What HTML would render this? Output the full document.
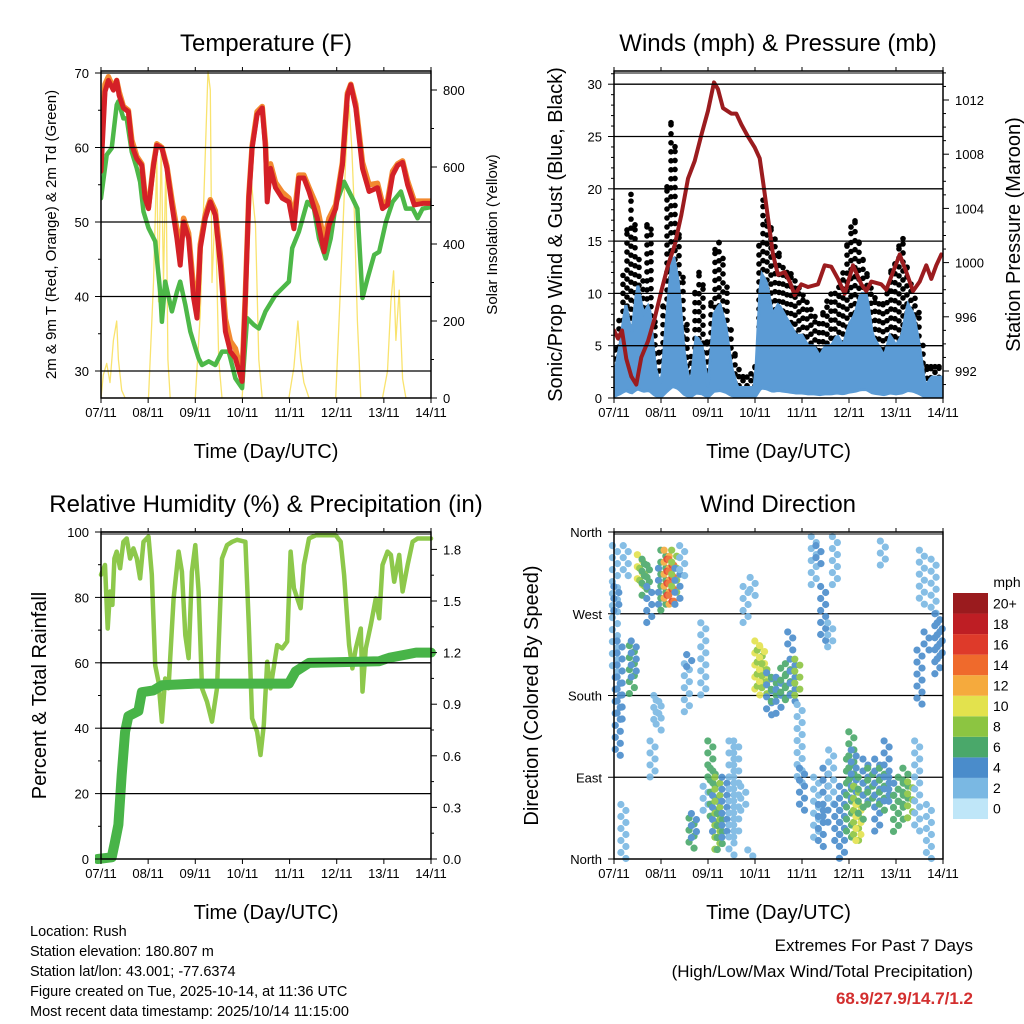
<!DOCTYPE html>
<html><head><meta charset="utf-8"><style>
html,body{margin:0;padding:0;background:#fff;}
svg{display:block;font-family:"Liberation Sans",Arial,sans-serif;}
</style></head><body>
<svg id="chart" width="1024" height="1024" viewBox="0 0 1024 1024">
</svg>
<script>
// ---------- DATA ----------
const dayLabels = ["07/11","08/11","09/11","10/11","11/11","12/11","13/11","14/11"];
const tempX = [18,30,40,55,65,72,85,100,110,125,140,150,160,175,185,200,215,230,245,255,265,280,295,305,315,330,345,360,375,390,405,420,440,450,460,470,485,500,510,515,525,540,560,580,595,610,625,640,665,685,700,720,740,755,765,780,800,820,845,860,875,890,905,920,935,955,980,1005];
const tempRed = [56.8,67.5,69,67.7,69,67,65.3,64.8,60.3,58.5,57.6,53.2,51.8,57.6,60.3,59.9,57.2,52.3,47.8,44.2,50,47.8,39.8,37.1,46.5,50.5,52.7,50.9,44.2,35.3,32.6,31.7,28.6,39.8,53.2,59.9,64.4,65.3,59.9,52.7,57.2,54.6,53.2,52.7,49.1,55.9,55.9,54.1,50.5,46,49.6,51.8,57.6,67,68.4,65.3,57.2,54.1,54.6,51.8,52.3,56.3,57.6,58,55,52.3,52.5,52.5];
const tempOrange = [59,68.5,69.5,68,69,67.5,65.5,65,61,58.8,57.8,53.5,52,57.8,60.5,60,57.5,53,49,46,50.5,48.5,41,38,47,51,53,51.5,45.5,37,34,33,29.5,40.5,53.5,60.2,64.8,65.5,60.5,54.5,57.8,55.3,54,53.2,50.5,56.3,56.3,54.6,52,47.5,50.5,52.3,58,67.3,68.5,65.8,58,55,55.2,52.5,52.8,56.8,57.8,58.2,55.5,52.8,52.8,52.8];
const dewX = [18,35,50,65,70,85,95,110,125,135,145,160,180,195,200,210,230,245,255,270,285,300,310,320,340,360,380,400,420,440,455,475,490,510,540,560,580,590,610,635,655,670,690,705,720,745,770,785,800,815,835,850,870,890,915,930,950,965,980,1005];
const dewPt = [53.2,59,59.9,65.7,66.2,63.9,63.9,59.4,57.2,55.4,51.4,49.2,47.4,40.6,36.6,42,38,40.6,42,38.9,35.3,33.1,31.7,30.8,31.3,30.8,32.6,32.6,29,27.7,37.1,36.2,35.7,38,40.2,41.1,42,46.5,48.7,52.7,51.8,47.8,45.1,47.8,52.3,55.4,53.2,51.8,39.8,42.4,45.6,46,50,52.7,54.1,51.8,51.8,50.5,51.8,52];
const solarX = [18,25,35,45,55,65,70,80,90,160,175,185,190,198,205,212,218,225,300,315,325,338,345,350,360,370,380,440,455,465,472,480,490,500,580,595,607,615,625,640,720,735,750,760,768,775,785,795,860,875,885,893,900,910,920,930];
const solarW = [0,60,90,40,150,200,100,20,0,0,300,620,250,660,300,620,100,0,0,220,500,850,800,300,500,100,0,0,200,600,520,450,100,0,0,80,200,100,40,0,0,300,620,760,650,500,200,0,0,70,250,330,150,280,50,0];
const windMax = [2,5,9,6,11,8,9,3,1,8,14,11,4,1,6,5,1,8,9,7,3,1,1,1,1,12,11,8,9,8,7,6,6,5,5,4,5,5,6,5,7,8,10,10,6,5,4,6,5,6,9,8,5,1,2,2,2];
const gustMax = [4,8,15,20,14,11,20,7,3,20,29,16,10,3,12,12,4,14,15,12,6,3,2,2,3,20,17,16,14,12,12,11,10,9,8,7,9,10,10,12,16,17,14,12,10,9,9,12,13,16,12,10,8,3,3,3,3];
const presX = [18,30,42,55,70,85,100,120,140,160,180,200,220,240,260,280,300,318,330,345,370,385,400,420,440,455,465,480,495,510,530,545,560,580,600,630,650,670,690,710,735,760,775,790,820,835,855,875,895,915,935,955,970,985,1000];
const presMb = [995,994.4,995,992.9,991.6,991,993,994.2,995.9,997.9,999.8,1001.3,1003.5,1006.2,1007.5,1009.4,1011.2,1013.3,1012.8,1011.4,1011,1011,1010.2,1009.3,1008.5,1007.7,1006,1003.3,1000.6,999.1,999.3,998.6,997.6,998.4,998.2,998.4,999.8,999.7,998.8,997.7,999.8,998.4,997.9,998.6,998.4,998,999.3,1000.6,999.3,997.9,998.6,999.8,998.8,999.8,1000.6];
const rhX = [18,30,38,45,52,58,65,75,85,95,105,115,125,135,145,160,170,180,190,200,210,220,235,250,260,270,280,290,300,310,320,335,350,365,380,395,410,425,450,460,470,485,495,505,515,525,545,560,575,585,595,615,625,640,660,700,720,735,745,760,770,780,795,800,810,825,840,850,860,875,885,895,910,920,935,950,965,985,1005];
const rhVal = [86.9,89.9,70.5,81.8,77.7,91.9,94,88.9,97,98,91.9,95,91.9,85.8,97,98.6,87,59.2,54.2,42,55.2,52.2,79.7,94,87.9,68.5,61.4,87.9,96,81.8,52.2,48.1,42,52.2,91.9,96,97,97.6,97,71.6,43,38.9,31.8,41,60.3,52.2,65.4,64.4,66.5,94,82.8,76.7,89.9,98,99,99,99,97,86.9,65.4,58.3,64.4,70.5,51.2,64.4,71.6,79.7,73.6,89.9,94,93,84.8,93,81.8,89.9,97,98,98,98];
const prX = [8,50,60,70,80,90,100,130,140,175,200,300,450,580,600,640,850,880,960,1005];
const prIn = [0,0.01,0.1,0.2,0.49,0.74,0.83,0.86,0.97,0.98,1.01,1.02,1.02,1.02,1.09,1.14,1.15,1.17,1.2,1.2];
const wdDay = [0.02,0.05,0.08,0.12,0.2,0.25,0.38,0.42,0.55,0.6,0.65,0.7,0.75,0.82,0.9,0.95,1.0,1.05,1.12,1.18,1.22,1.28,1.35,1.45,1.55,1.6,1.65,1.7,1.9,1.95,2.05,2.1,2.15,2.2,2.25,2.35,2.5,2.6,2.75,2.9,2.95,2.8,3.05,3.1,3.15,3.2,3.3,3.4,3.5,3.6,3.7,3.8,3.9,3.75,3.95,4.0,4.25,4.35,4.45,4.6,4.7,4.3,4.4,4.5,4.62,4.75,4.85,5.0,5.05,5.1,5.15,5.2,5.25,5.35,5.45,5.6,5.7,5.8,5.9,6.0,6.1,6.2,6.3,5.72,6.45,6.5,6.55,6.65,6.7,6.8,6.88,6.93];
const wdLo = [200,270,110,150,0,310,180,200,300,295,290,300,260,90,150,140,280,270,280,280,280,290,275,310,160,210,10,20,180,50,80,40,20,10,5,20,0,20,50,0,290,260,180,190,195,180,155,170,160,175,170,170,180,230,80,50,300,320,240,230,300,20,10,40,60,20,0,20,80,60,20,20,40,60,60,30,50,60,60,30,40,60,40,320,30,170,280,230,0,270,200,220];
const wdHi = [345,300,200,240,60,345,235,240,335,320,330,325,300,130,180,175,320,340,340,330,330,340,320,345,215,225,45,50,260,80,130,100,70,90,50,90,130,130,80,10,310,300,240,230,235,215,205,200,200,210,215,220,220,250,170,100,355,345,300,260,355,90,60,100,120,60,80,110,140,120,80,60,90,110,100,110,100,130,90,70,90,100,85,350,130,230,340,250,60,330,270,260];
const wdMph = [2,3,3,4,1,1,6,4,9,7,6,6,3,1,1,2,4,6,11,15,13,8,4,1,1,3,5,4,1,2,5,6,4,7,6,3,1,1,1,1,1,1,10,8,9,7,4,6,3,5,6,4,7,4,2,3,2,3,3,2,2,2,3,3,2,3,4,5,5,4,8,10,6,4,5,4,6,4,3,5,6,5,7,1,1,3,1,4,1,2,3,4];
const cbLabels = ["0","2","4","6","8","10","12","14","16","18","20+"];
const cbColors = ["#bfe6f8","#7ab8e3","#4a8ccb","#4aa86a","#8cc541","#e3e24d","#f5aa3d","#ef6a2c","#de3a2a","#be1e24","#9a1b1e"];

// ---------- HELPERS ----------
const NS="http://www.w3.org/2000/svg";
const svg=document.getElementById('chart');
function el(tag,attrs,parent){const e=document.createElementNS(NS,tag);for(const k in attrs)e.setAttribute(k,attrs[k]);(parent||svg).appendChild(e);return e;}
function txt(s,attrs,parent){const e=el('text',attrs,parent);e.textContent=s;return e;}
const zx2day = zx => (zx-18)/141;
function line(x1,y1,x2,y2,stroke,w,parent){return el('line',{x1,y1,x2,y2,stroke,'stroke-width':w},parent);}

function panel(name,x0,x1,y0,y1,title,titleX){
  const g=el('g',{});
  
  
  const t=txt(title,{x:titleX,y:y0-20,'font-size':24,'text-anchor':'middle',fill:'#000'},g);
  
  
  const xd=d=>x0+d*(x1-x0)/7;
  return {g,x0,x1,y0,y1,xd};
}
function frame(p){
  const g=p.g;
  el('rect',{x:p.x0,y:p.y0,width:p.x1-p.x0,height:p.y1-p.y0,fill:'none',stroke:'#000','stroke-width':1.5},g);
  line(p.x0,p.y0+2,p.x1,p.y0+2,'#000',1,g);
  for(let i=0;i<=7;i++){
    const x=p.xd(i);
    line(x,p.y0,x,p.y0-4,'#000',1,g);
    line(x,p.y1,x,p.y1+5,'#000',1,g);
    const l=txt(dayLabels[i],{x:x,y:p.y1+19,'font-size':13,'text-anchor':'middle'},g);
    
    
  }
  const xt=txt('Time (Day/UTC)',{x:(p.x0+p.x1)/2,y:p.y1+60,'font-size':20,'text-anchor':'middle'},g);
  
  
}
function leftTicks(p,vals,labels,yf,minor){
  minor.forEach(v=>line(p.x0,yf(v),p.x0-3,yf(v),'#000',1,p.g));
  vals.forEach((v,i)=>{line(p.x0,yf(v),p.x0-6,yf(v),'#000',1,p.g);
    const l=txt(labels[i],{x:p.x0-12,y:yf(v)+5,'font-size':13,'text-anchor':'end'},p.g);
    
    });
}
function rightTicks(p,vals,labels,yf,minor){
  minor.forEach(v=>line(p.x1,yf(v),p.x1+3,yf(v),'#000',1,p.g));
  vals.forEach((v,i)=>{line(p.x1,yf(v),p.x1+6,yf(v),'#000',1,p.g);
    const l=txt(labels[i],{x:p.x1+12,y:yf(v)+5,'font-size':13,'text-anchor':'start'},p.g);
    
    });
}
function grid(p,vals,yf){vals.forEach(v=>line(p.x0,yf(v),p.x1,yf(v),'#000',1.3,p.g));}
function vtitle(p,s,x,size,name){
  const cy=(p.y0+p.y1)/2;
  const t=txt(s,{x:x,y:cy,'font-size':size,'text-anchor':'middle',transform:`rotate(-90 ${x} ${cy})`},p.g);
  
  
}
function poly(p,xs,ys,color,w,name,opac){
  const pts=xs.map((x,i)=>x.toFixed(1)+','+ys[i].toFixed(1)).join(' ');
  const e=el('polyline',{points:pts,fill:'none',stroke:color,'stroke-width':w,'stroke-linejoin':'round','stroke-linecap':'round',opacity:opac||1},p.g);
  
  
  return e;
}
function interp(xs,ys,x){
  if(x<=xs[0])return ys[0];
  for(let i=1;i<xs.length;i++){if(x<=xs[i]){const t=(x-xs[i-1])/(xs[i]-xs[i-1]);return ys[i-1]+t*(ys[i]-ys[i-1]);}}
  return ys[ys.length-1];
}

// ---------- PANEL 1: TEMPERATURE ----------
(function(){
  const p=panel('temperature-panel',101,431,71,398,'Temperature (F)',266);
  const yT=t=>371-(t-30)*7.45, yS=s=>398-s*0.385;
  const clip=el('clipPath',{id:'c1'});el('rect',{x:p.x0,y:p.y0,width:p.x1-p.x0,height:p.y1-p.y0},clip);
  const inner=el('g',{'clip-path':'url(#c1)'},p.g);
  grid(p,[30,40,50,60,70],yT);
  const sub={g:inner};
  poly(sub,solarX.map(z=>p.xd(zx2day(z))),solarW.map(yS),'#f7dc4a',1.3,'solar-insolation-line',0.8);
  poly(sub,dewX.map(z=>p.xd(zx2day(z))),dewPt.map(yT),'#4db848',4.5,'dewpoint-line');
  poly(sub,tempX.map(z=>p.xd(zx2day(z))),tempOrange.map(yT),'#f28a30',5.5,'temp-9m-line');
  poly(sub,tempX.map(z=>p.xd(zx2day(z))),tempRed.map(yT),'#d42027',5,'temp-2m-line');
  frame(p);
  leftTicks(p,[30,40,50,60,70],['30','40','50','60','70'],yT,[35,45,55,65]);
  rightTicks(p,[0,200,400,600,800],['0','200','400','600','800'],yS,[100,300,500,700]);
  vtitle(p,'2m & 9m T (Red, Orange) & 2m Td (Green)',56,15,'y-axis-title');
  vtitle(p,'Solar Insolation (Yellow)',497,15,'y2-axis-title');
})();

// ---------- PANEL 2: WINDS ----------
(function(){
  const p=panel('winds-panel',614,943,71,398,'Winds (mph) & Pressure (mb)',778);
  const yW=w=>398-w*10.46, yP=m=>371-(m-992)*13.55;
  const clip=el('clipPath',{id:'c2'});el('rect',{x:p.x0,y:p.y0,width:p.x1-p.x0,height:p.y1-p.y0},clip);
  const inner=el('g',{'clip-path':'url(#c2)'},p.g);
  grid(p,[5,10,15,20,25,30],yW);
  const wx=windMax.map((v,i)=>i/8);
  const gd=el('g',{fill:'#000'},inner);
  
  
  let k=0;
  for(let x=p.x0+1;x<p.x1;x+=4){
    const d=(x-p.x0)/(p.x1-p.x0)*7;
    const g=interp(wx,gustMax,d), w=interp(wx,windMax,d);
    const top=yW(g), bot=yW(w*0.8);
    const off=(k++%2)*4;
    for(let y=bot-off;y>=top;y-=9){el('circle',{cx:x,cy:y,r:2.8},gd);}
    el('circle',{cx:x,cy:top,r:2.8},gd);
  }
  const bx=[],bt=[],bb=[];
  for(let x=p.x0;x<=p.x1;x+=2){const d=(x-p.x0)/(p.x1-p.x0)*7;const w=interp(wx,windMax,d);bx.push(x);bt.push(yW(w));bb.push(yW(w*0.08));}
  let dstr='M'+bx.map((x,i)=>x+','+bt[i]).join(' L')+' L'+bx.slice().reverse().map((x,i)=>x+','+bb[bb.length-1-i]).join(' L')+'Z';
  const band=el('path',{d:dstr,fill:'#5b9bd5',stroke:'#5b9bd5','stroke-width':3},inner);
  
  
  poly({g:inner},presX.map(z=>p.xd(zx2day(z))),presMb.map(yP),'#9b1c1f',4,'pressure-line');
  frame(p);
  leftTicks(p,[0,5,10,15,20,25,30],['0','5','10','15','20','25','30'],yW,[1,2,3,4,6,7,8,9,11,12,13,14,16,17,18,19,21,22,23,24,26,27,28,29,31]);
  rightTicks(p,[992,996,1000,1004,1008,1012],['992','996','1000','1004','1008','1012'],yP,[991,993,994,995,997,998,999,1001,1002,1003,1005,1006,1007,1009,1010,1011,1013,1014]);
  vtitle(p,'Sonic/Prop Wind & Gust (Blue, Black)',562,20,'y-axis-title');
  vtitle(p,'Station Pressure (Maroon)',1020,20,'y2-axis-title');
})();

// ---------- PANEL 3: RH & PRECIP ----------
(function(){
  const p=panel('humidity-panel',101,431,532,859,'Relative Humidity (%) & Precipitation (in)',266);
  const yH=h=>859-h*3.27, yR=v=>859-v*172;
  const clip=el('clipPath',{id:'c3'});el('rect',{x:p.x0-6,y:p.y0,width:p.x1-p.x0+12,height:p.y1-p.y0+6},clip);
  const inner=el('g',{'clip-path':'url(#c3)'},p.g);
  grid(p,[20,40,60,80,100],yH);
  poly({g:inner},rhX.map(z=>p.xd(zx2day(z))),rhVal.map(yH),'#8dc84b',4.5,'rh-line');
  poly({g:inner},prX.map(z=>p.xd(zx2day(z))),prIn.map(yR),'#48b448',10,'precip-line');
  frame(p);
  leftTicks(p,[0,20,40,60,80,100],['0','20','40','60','80','100'],yH,[10,30,50,70,90]);
  rightTicks(p,[0,0.3,0.6,0.9,1.2,1.5,1.8],['0.0','0.3','0.6','0.9','1.2','1.5','1.8'],yR,[0.15,0.45,0.75,1.05,1.35,1.65]);
  vtitle(p,'Percent & Total Rainfall',46,20,'y-axis-title');
})();

// ---------- PANEL 4: WIND DIRECTION ----------
(function(){
  const p=panel('wind-direction-panel',614,943,532,859,'Wind Direction',778);
  const yD=d=>859-d*327/360;
  grid(p,[90,180,270],yD);
  const dots=el('g',{opacity:0.9},p.g);
  
  
  const colorFor=m=>cbColors[Math.min(10,Math.round(m/2))];
  wdDay.forEach((d,i)=>{
    const x=p.xd(d), c=colorFor(wdMph[i]);
    let j=0;
    for(let y=yD(wdHi[i]);y<=yD(wdLo[i])+0.1;y+=6){
      const dx=(j++%2===0)?-2.5:2.5;
      el('circle',{cx:x+dx,cy:y,r:3.6,fill:c},dots);
    }
  });
  frame(p);
  const dl=['North','East','South','West','North'];
  leftTicks(p,[0,90,180,270,360],dl,yD,[]);
  vtitle(p,'Direction (Colored By Speed)',538,20,'y-axis-title');
  const cb=el('g',{},p.g);
  
  
  const u=txt('mph',{x:1007,y:587,'font-size':14,'text-anchor':'middle'},cb);
  
  
  const h=226/11;
  cbColors.forEach((c,i)=>{
    const y=819-(i+1)*h;
    el('rect',{x:953,y:y,width:35,height:h,fill:c},cb);
    const l=txt(cbLabels[i],{x:993,y:y+h/2+5,'font-size':14},cb);
    
    
  });
})();

// ---------- FOOTER ----------
const info=["Location: Rush","Station elevation: 180.807 m","Station lat/lon: 43.001; -77.6374","Figure created on Tue, 2025-10-14, at 11:36 UTC","Most recent data timestamp: 2025/10/14 11:15:00"];
info.forEach((s,i)=>{const t=txt(s,{x:30,y:936+i*20,'font-size':14.5},svg);
  
  });
const e1=txt('Extremes For Past 7 Days',{x:973,y:951,'font-size':17,'text-anchor':'end'});


const e2=txt('(High/Low/Max Wind/Total Precipitation)',{x:973,y:977,'font-size':17,'text-anchor':'end'});


const e3=txt('68.9/27.9/14.7/1.2',{x:973,y:1004,'font-size':17,'font-weight':'bold','text-anchor':'end',fill:'#d32f2f'});


</script>
</body></html>
